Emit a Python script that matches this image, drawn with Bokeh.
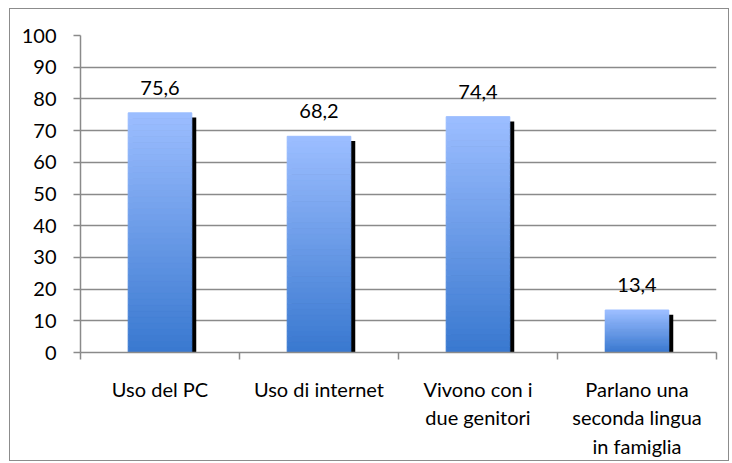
from bokeh.plotting import figure
from bokeh.models import (ColumnDataSource, Range1d, LinearAxis, FixedTicker, LabelSet)
from bokeh.core.properties import value
from bokeh.embed import file_html
from bokeh.resources import INLINE

categories = ["Uso del PC", "Uso di internet", "Vivono con i\ndue genitori",
              "Parlano una\nseconda lingua\nin famiglia"]
values = [75.6, 68.2, 74.4, 13.4]
value_labels = ["75,6", "68,2", "74,4", "13,4"]
y_ticks = [0, 10, 20, 30, 40, 50, 60, 70, 80, 90, 100]

FONT = "Lato"
FS = "20px"
GRID = "#8a8a8a"
BAR_W = 0.4

n = len(categories)
centers = [i + 0.5 for i in range(n)]
bounds = list(range(n + 1))

p = figure(width=720, height=453, x_range=Range1d(0, n),
           y_range=Range1d(0, 100), output_backend="svg", toolbar_location=None,
           x_axis_location=None, y_axis_location=None,
           min_border_left=70, min_border_right=14, min_border_top=26,
           min_border_bottom=110)
p.styles = {"border": "1.5px solid #8c8c8c", "box-sizing": "border-box",
            "margin-top": "8px", "margin-left": "9px"}
p.outline_line_color = None
p.background_fill_color = "white"
p.border_fill_color = "white"

# y axis
yax = LinearAxis(ticker=FixedTicker(ticks=y_ticks))
yax.axis_line_color = GRID
yax.axis_line_width = 1.5
yax.major_tick_line_color = GRID
yax.major_tick_line_width = 1.5
yax.major_tick_out = 7
yax.major_tick_in = 0
yax.minor_tick_line_color = None
yax.major_label_text_font = FONT
yax.major_label_text_font_size = FS
yax.major_label_text_color = "black"
yax.major_label_standoff = 17
p.add_layout(yax, "left")

p.ygrid.ticker = FixedTicker(ticks=y_ticks)
p.ygrid.grid_line_color = GRID
p.ygrid.grid_line_width = 1.5
p.xgrid.grid_line_color = None

# category axis: labels at centres, minor ticks as separators
cax = LinearAxis(ticker=FixedTicker(ticks=centers, minor_ticks=bounds))
cax.major_label_overrides = {c: lab for c, lab in zip(centers, categories)}
cax.axis_line_color = GRID
cax.axis_line_width = 1.5
cax.major_tick_line_color = None
cax.minor_tick_line_color = GRID
cax.minor_tick_line_width = 1.5
cax.minor_tick_out = 7
cax.minor_tick_in = 0
cax.major_tick_out = 0
cax.major_tick_in = 0
cax.major_label_text_font = FONT
cax.major_label_text_font_size = FS
cax.major_label_text_color = "black"
cax.major_label_text_line_height = 1.2
cax.major_label_standoff = 17
p.add_layout(cax, "below")

# shadow
src = ColumnDataSource(dict(x=centers, val=values, lab=value_labels,
                            sx=[c + 0.028 for c in centers],
                            st=[v - 1.5 for v in values]))
p.vbar(x="sx", top="st", bottom=0, width=BAR_W, source=src,
       fill_color="black", line_color=None)

# gradient bars
N = 40
top_c = (155, 189, 255)
bot_c = (58, 121, 208)
gx, gb, gt, gc = [], [], [], []
for c, v in zip(centers, values):
    for i in range(N):
        f = i / (N - 1)
        col = tuple(int(round(bot_c[k] + (top_c[k] - bot_c[k]) * f)) for k in range(3))
        gx.append(c)
        gb.append(v * i / N)
        gt.append(v * (i + 1) / N)
        gc.append("#%02x%02x%02x" % col)
gsrc = ColumnDataSource(dict(x=gx, b=gb, t=gt, c=gc))
p.vbar(x="x", bottom="b", top="t", width=BAR_W, source=gsrc, fill_color="c",
       line_color="c", line_width=1)

labels = LabelSet(x="x", y="val", text="lab", source=src, text_align="center",
                  text_baseline="alphabetic", y_offset=18, text_font=value(FONT),
                  text_font_size=value(FS), text_color="black")
p.add_layout(labels)

open("out.html", "w").write(file_html(p, INLINE))
